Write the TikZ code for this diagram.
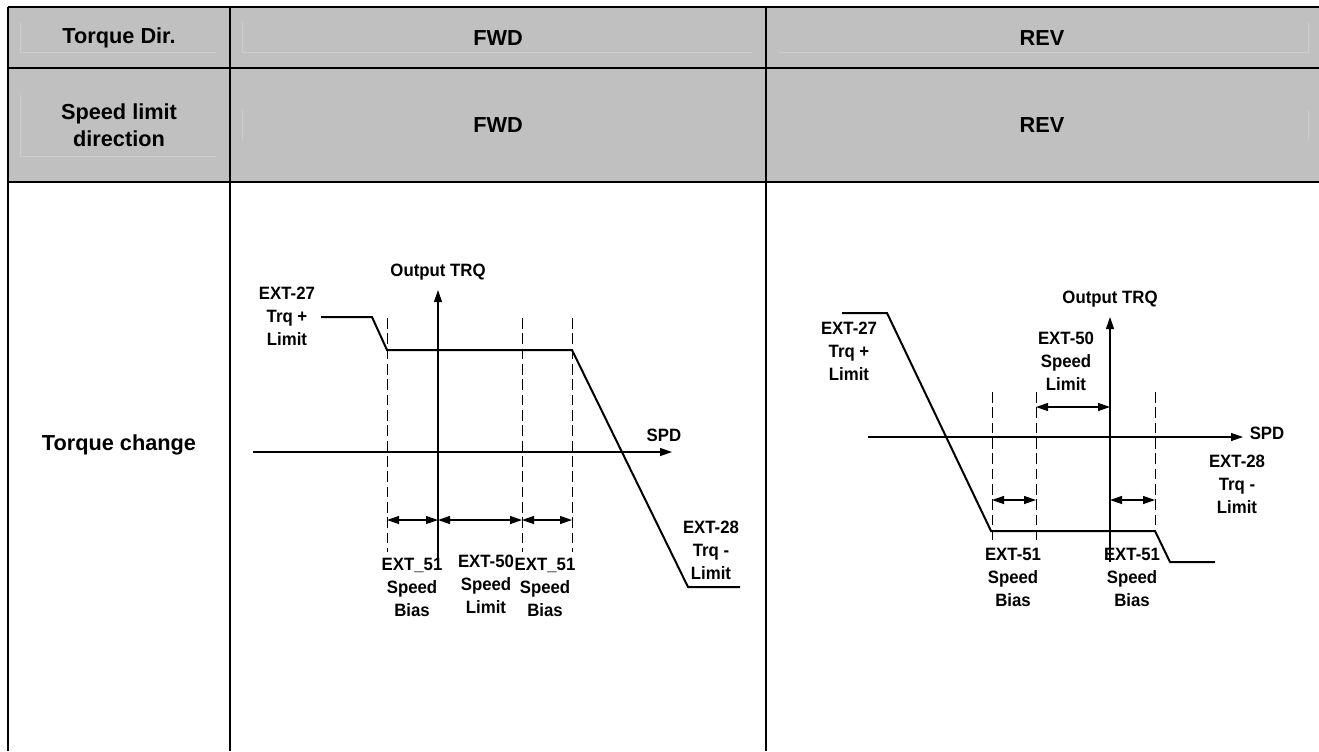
\documentclass[tikz,border=0pt]{standalone}
\usepackage{fontspec}
\setmainfont{Liberation Sans}
\newfontfamily\plotfont[FakeStretch=0.94]{Liberation Sans}
\usepackage{xcolor}
\usetikzlibrary{arrows.meta,calc,positioning}
\definecolor{cellgray}{HTML}{C0C0C0}
\definecolor{cellrule}{HTML}{CDCDCD}
\tikzset{
every picture/.style={line cap=butt,line join=miter},
>={Triangle[length=9pt,width=6pt]},
table line/.style={draw=black, line width=1.5pt},
cell rule/.style={draw=cellrule, line width=0.5pt},
head text/.style={font=\fontsize{16.3}{20}\selectfont\bfseries, align=center, inner sep=0pt},
plot label/.style={font=\plotfont\fontsize{13.4}{17.2}\selectfont\bfseries, align=center, inner sep=0pt},
trq curve/.style={draw=black, line width=1.5pt},
axis line/.style={draw=black, line width=0.9pt, ->},
guide line/.style={draw=black, line width=0.75pt, dash pattern=on 8pt off 3.5pt},
span arrow/.style={draw=black, line width=0.9pt, <->}
}
\begin{document}
\begin{tikzpicture}[x=0.75pt,y=-0.75pt]
\useasboundingbox (0,0) rectangle (1319,751);
% table frame
\fill[cellgray] (8,7) rectangle (1319,182);
\draw[cell rule] (20,22) -- (20,52) -- (216,52);
\draw[cell rule] (242,22) -- (242,52) -- (752,52);
\draw[cell rule] (779,52) -- (1308,52) -- (1308,22);
\draw[cell rule] (20,95) -- (20,156) -- (216,156);
\draw[cell rule] (242,110) -- (242,140);
\draw[cell rule] (1308,110) -- (1308,140);
\coordinate (tl) at (8,7);
\coordinate (tr) at (1319,7);
\coordinate (ml) at (8,68);
\coordinate (mr) at (1319,68);
\coordinate (bl) at (8,182);
\coordinate (br) at (1319,182);
\draw[table line] (tl) -- (tr);
\draw[table line] (ml) -- (mr);
\draw[table line] (bl) -- (br);
\draw[table line] (8,7) -- (8,751);
\draw[table line] (230,7) -- (230,751);
\draw[table line] (766,7) -- (766,751);
\node[head text] (dirhead) at (119,38) {Torque Dir.};
\node[head text] (dirfwd) at (498,38) {FWD};
\node[head text] (dirrev) at (1042,38) {REV};
\node[head text] (limhead) at (119,125) {Speed limit\\direction};
\node[head text] (limfwd) at (498,125) {FWD};
\node[head text] (limrev) at (1042,125) {REV};
\node[head text] (chghead) at (119,445) {Torque change};
% FWD plot
\coordinate (fx0) at (253,452);
\coordinate (fx1) at (672,452);
\coordinate (fy0) at (438,565);
\coordinate (fy1) at (438,290);
\draw[axis line] (fx0) -- (fx1);
\draw[axis line] (fy0) -- (fy1);
\node[plot label] (ftrq) at (438,272) {Output TRQ};
\node[plot label] (fspd) at (664,435) {SPD};
\foreach \gx in {387,522,572}
  \draw[guide line] (\gx,318) -- (\gx,552);
\draw[trq curve] (321,317) -- (372,317) -- (387,350) -- (572,350) -- (688,587) -- (740,587);
\coordinate (fa) at (387,520);
\coordinate (fb) at (438,520);
\coordinate (fc) at (522,520);
\coordinate (fd) at (572,520);
\draw[span arrow] (fa) -- (fb);
\draw[span arrow] (fb) -- (fc);
\draw[span arrow] (fc) -- (fd);
\node[plot label] (fplus) at (287,316) {EXT-27\\Trq +\\Limit};
\node[plot label] (fminus) at (711,550) {EXT-28\\Trq -\\Limit};
\node[plot label] (fbias1) at (412,587) {EXT\_51\\Speed\\Bias};
\node[plot label] (flimit) at (486,584) {EXT-50\\Speed\\Limit};
\node[plot label] (fbias2) at (545,587) {EXT\_51\\Speed\\Bias};
% REV plot
\coordinate (rx0) at (868,437);
\coordinate (rx1) at (1243,437);
\coordinate (ry0) at (1110,562);
\coordinate (ry1) at (1110,317);
\draw[axis line] (rx0) -- (rx1);
\draw[axis line] (ry0) -- (ry1);
\node[plot label] (rtrq) at (1110,299) {Output TRQ};
\node[plot label] (rspd) at (1267,433) {SPD};
\draw[guide line] (992,392) -- (992,540);
\draw[guide line] (1036,392) -- (1036,540);
\draw[guide line] (1155,392) -- (1155,531);
\draw[trq curve] (842,313) -- (887,313) -- (991,531) -- (1155,531) -- (1170,562) -- (1215,562);
\coordinate (ra) at (992,500);
\coordinate (rb) at (1036,500);
\coordinate (rc) at (1036,407);
\coordinate (rd) at (1110,407);
\coordinate (re) at (1110,500);
\coordinate (rf) at (1155,500);
\draw[span arrow] (rc) -- (rd);
\draw[span arrow] (ra) -- (rb);
\draw[span arrow] (re) -- (rf);
\node[plot label] (rplus) at (849,351) {EXT-27\\Trq +\\Limit};
\node[plot label] (rlimit) at (1066,361) {EXT-50\\Speed\\Limit};
\node[plot label] (rminus) at (1237,484) {EXT-28\\Trq -\\Limit};
\node[plot label] (rbias1) at (1013,577) {EXT-51\\Speed\\Bias};
\node[plot label] (rbias2) at (1132,577) {EXT-51\\Speed\\Bias};
\end{tikzpicture}
\end{document}
